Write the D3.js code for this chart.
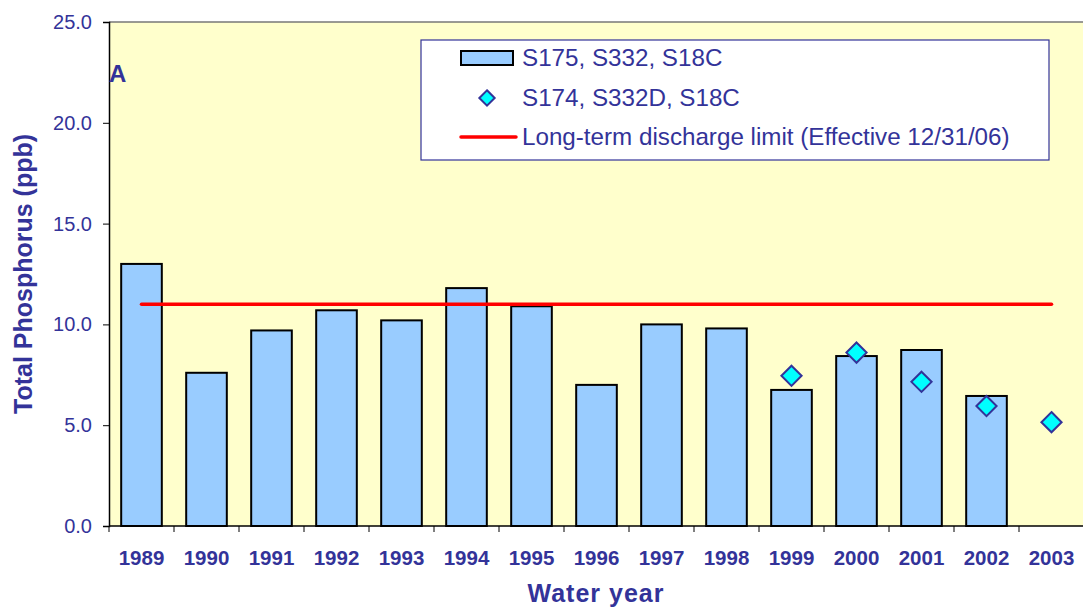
<!DOCTYPE html>
<html>
<head>
<meta charset="utf-8">
<script src="https://cdn.jsdelivr.net/npm/d3@7"></script>
<style>
  body { margin: 0; background: #fff; }
  svg { display: block; font-family: "Liberation Sans", Arial, sans-serif; }
</style>
</head>
<body>
<div id="chart"></div>
<script>
// Water years on the x axis
const years = ["1989", "1990", "1991", "1992", "1993", "1994", "1995", "1996",
               "1997", "1998", "1999", "2000", "2001", "2002", "2003"];
// S175, S332, S18C (bars)
const barValues = [13.0, 7.6, 9.7, 10.7, 10.2, 11.8, 10.9, 7.0,
                   10.0, 9.8, 6.75, 8.43, 8.73, 6.45, null];
// S174, S332D, S18C (diamonds)
const diamondValues = [null, null, null, null, null, null, null, null,
                       null, null, 7.45, 8.6, 7.15, 5.95, 5.15];
// Long-term discharge limit
const limitValue = 11.0;
const yTicks = [0, 5, 10, 15, 20, 25];
const legendLabels = ["S175, S332, S18C", "S174, S332D, S18C",
                      "Long-term discharge limit (Effective 12/31/06)"];

const TEXT = "#333399";
const width = 1083, height = 608;
const margin = {top: 22, right: -1, bottom: 82, left: 109};

const svg = d3.select("#chart").append("svg")
    .attr("width", width)
    .attr("height", height);

const x = d3.scaleBand()
    .domain(years)
    .range([margin.left, width - margin.right])
    .paddingInner(0.375)
    .paddingOuter(0.1875);

const y = d3.scaleLinear()
    .domain([0, 25])
    .range([height - margin.bottom, margin.top]);

// plot background
svg.append("rect")
    .attr("x", margin.left)
    .attr("y", margin.top)
    .attr("width", width - margin.right - margin.left)
    .attr("height", y(0) - margin.top)
    .attr("fill", "#ffffcc");

// top border of the plot area
svg.append("line")
    .attr("x1", margin.left).attr("x2", width)
    .attr("y1", margin.top).attr("y2", margin.top)
    .attr("stroke", "#777").attr("stroke-width", 1.5);

// bars
svg.selectAll("rect.bar")
    .data(years.map((yr, i) => ({yr, v: barValues[i]})).filter(d => d.v != null))
    .enter().append("rect")
    .attr("class", "bar")
    .attr("x", d => x(d.yr))
    .attr("y", d => y(d.v))
    .attr("width", x.bandwidth())
    .attr("height", d => y(0) - y(d.v))
    .attr("fill", "#99ccff")
    .attr("stroke", "#000")
    .attr("stroke-width", 2);

// limit line (center of first to center of last category)
svg.append("line")
    .attr("x1", x(years[0]) + x.bandwidth() / 2)
    .attr("x2", x(years[years.length - 1]) + x.bandwidth() / 2)
    .attr("y1", y(limitValue)).attr("y2", y(limitValue))
    .attr("stroke", "#ff0000")
    .attr("stroke-width", 3.5)
    .attr("stroke-linecap", "round");

// diamonds
const diamond = d3.symbol().type(d3.symbolDiamond2).size(260);
svg.selectAll("path.dia")
    .data(years.map((yr, i) => ({yr, v: diamondValues[i]})).filter(d => d.v != null))
    .enter().append("path")
    .attr("class", "dia")
    .attr("d", diamond)
    .attr("transform", d => `translate(${x(d.yr) + x.bandwidth() / 2},${y(d.v)})`)
    .attr("fill", "#00ffff")
    .attr("stroke", TEXT)
    .attr("stroke-width", 2);

// y axis
const yAxis = svg.append("g")
    .attr("transform", `translate(${margin.left},0)`)
    .call(d3.axisLeft(y).tickValues(yTicks).tickFormat(d3.format(".1f")).tickSize(6).tickPadding(11));
yAxis.select(".domain").attr("stroke", "#000").attr("stroke-width", 1.5);
yAxis.selectAll(".tick line").attr("stroke", "#000");
yAxis.selectAll("text")
    .attr("fill", TEXT)
    .style("font-size", "20px");

// x axis: ticks on category boundaries
const xAxisG = svg.append("g").attr("transform", `translate(0,${y(0)})`);
xAxisG.append("line")
    .attr("x1", margin.left).attr("x2", width)
    .attr("stroke", "#000").attr("stroke-width", 1.5);
const step = x.step();
xAxisG.selectAll("line.tk")
    .data(years)
    .enter().append("line")
    .attr("class", "tk")
    .attr("x1", (d, i) => margin.left + i * step)
    .attr("x2", (d, i) => margin.left + i * step)
    .attr("y1", 0).attr("y2", 6)
    .attr("stroke", "#000");
xAxisG.selectAll("text")
    .data(years)
    .enter().append("text")
    .attr("x", d => x(d) + x.bandwidth() / 2)
    .attr("y", 39)
    .attr("text-anchor", "middle")
    .attr("fill", TEXT)
    .style("font-size", "20.5px")
    .style("font-weight", "bold")
    .text(d => d);

// axis titles
svg.append("text")
    .attr("transform", `translate(32,${(margin.top + y(0)) / 2}) rotate(-90)`)
    .attr("text-anchor", "middle")
    .attr("fill", TEXT)
    .style("font-size", "25px")
    .style("font-weight", "bold")
    .text("Total Phosphorus (ppb)");

svg.append("text")
    .attr("x", (margin.left + width) / 2)
    .attr("y", 602)
    .attr("text-anchor", "middle")
    .attr("fill", TEXT)
    .style("font-size", "25px")
    .style("font-weight", "bold")
    .style("letter-spacing", "1px")
    .text("Water year");

// panel letter
svg.append("text")
    .attr("x", margin.left).attr("y", 82)
    .attr("fill", TEXT)
    .style("font-size", "24px")
    .style("font-weight", "bold")
    .text("A");

// legend
const lg = svg.append("g").attr("transform", "translate(421,40)");
lg.append("rect")
    .attr("width", 628).attr("height", 120)
    .attr("fill", "#fff")
    .attr("stroke", TEXT).attr("stroke-width", 1.2);
const rowY = [18, 58, 97];
lg.append("rect")
    .attr("x", 40).attr("y", rowY[0] - 7)
    .attr("width", 52).attr("height", 14)
    .attr("fill", "#99ccff").attr("stroke", "#000").attr("stroke-width", 2);
lg.append("path")
    .attr("d", d3.symbol().type(d3.symbolDiamond2).size(150))
    .attr("transform", `translate(66,${rowY[1]})`)
    .attr("fill", "#00ffff").attr("stroke", TEXT).attr("stroke-width", 2);
lg.append("line")
    .attr("x1", 40).attr("x2", 95)
    .attr("y1", rowY[2]).attr("y2", rowY[2])
    .attr("stroke", "#ff0000").attr("stroke-width", 3.5)
    .attr("stroke-linecap", "round");
lg.selectAll("text.lt")
    .data(legendLabels)
    .enter().append("text")
    .attr("class", "lt")
    .attr("x", 101)
    .attr("y", (d, i) => rowY[i])
    .attr("dy", "0.35em")
    .attr("fill", TEXT)
    .style("font-size", "24.2px")
    .text(d => d);
</script>
</body>
</html>
